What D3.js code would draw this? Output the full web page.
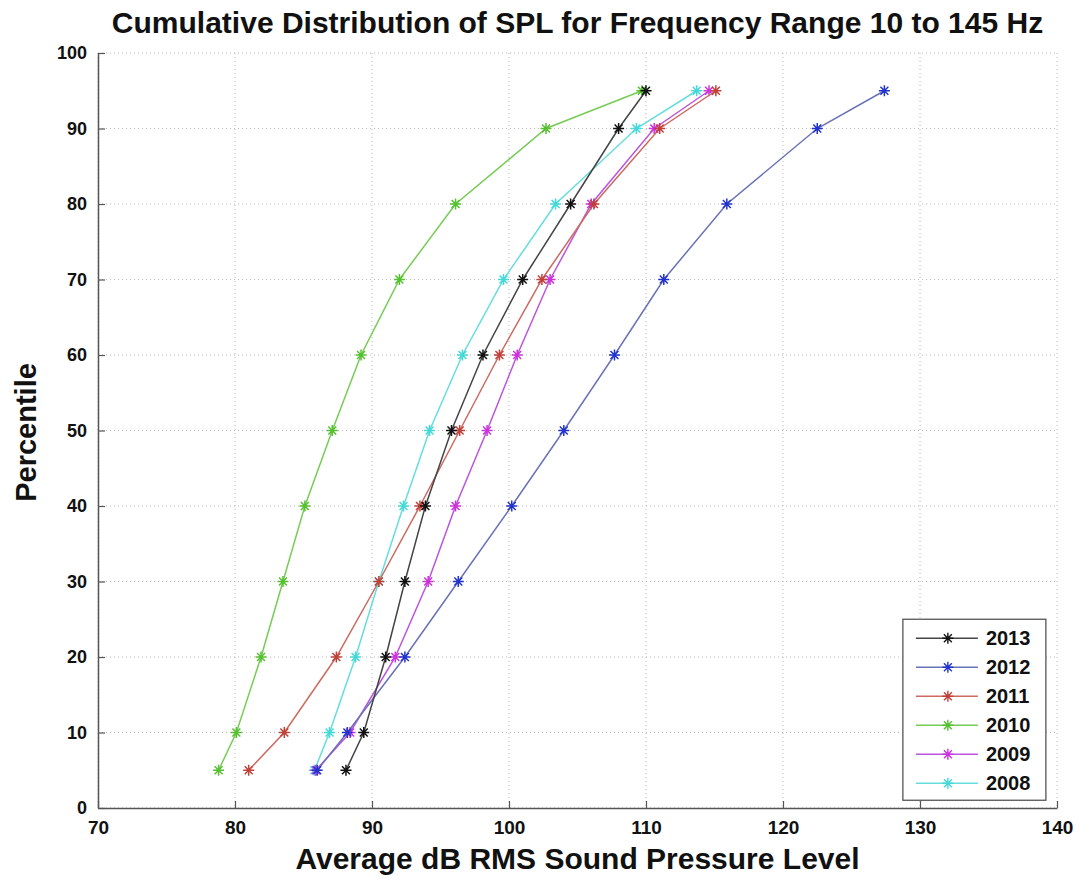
<!DOCTYPE html>
<html>
<head>
<meta charset="utf-8">
<script src="https://cdn.jsdelivr.net/npm/d3@7"></script>
<style>
  body { margin: 0; background: #fff; }
  svg text { font-family: "Liberation Sans", Arial, sans-serif; font-weight: bold; fill: #111; }
</style>
</head>
<body>
<svg id="chart"></svg>
<script>
// percentile levels shared by all years
const percentiles = [5, 10, 20, 30, 40, 50, 60, 70, 80, 90, 95];

// average dB RMS SPL, one array per year
const spl2013 = [88.1, 89.4, 91.0, 92.4, 93.9, 95.8, 98.1, 101.0, 104.5, 108.0, 110.0];
const spl2012 = [86.0, 88.2, 92.4, 96.3, 100.2, 104.0, 107.7, 111.3, 115.9, 122.5, 127.4];
const spl2011 = [81.0, 83.6, 87.4, 90.5, 93.5, 96.4, 99.3, 102.4, 106.2, 111.0, 115.1];
const spl2010 = [78.8, 80.1, 81.9, 83.5, 85.1, 87.1, 89.2, 92.0, 96.1, 102.7, 109.7];
const spl2009 = [85.9, 88.4, 91.7, 94.1, 96.1, 98.4, 100.6, 103.0, 106.0, 110.6, 114.6];
const spl2008 = [85.8, 86.9, 88.8, 90.5, 92.3, 94.2, 96.6, 99.6, 103.4, 109.3, 113.7];

const years = ['2013', '2012', '2011', '2010', '2009', '2008'];
const xTicks = [70, 80, 90, 100, 110, 120, 130, 140];
const yTicks = [0, 10, 20, 30, 40, 50, 60, 70, 80, 90, 100];

const series = [
  {name: years[0], values: spl2013, line: '#444444', mark: '#111111'},
  {name: years[1], values: spl2012, line: '#6a72b8', mark: '#2233cc'},
  {name: years[2], values: spl2011, line: '#cc6a60', mark: '#c0403a'},
  {name: years[3], values: spl2010, line: '#77cc55', mark: '#55c030'},
  {name: years[4], values: spl2009, line: '#bb55dd', mark: '#cc33dd'},
  {name: years[5], values: spl2008, line: '#66dddd', mark: '#44d8d8'}
];

const config = {
  width: 1089,
  height: 883,
  margin: {top: 53, right: 32, bottom: 75, left: 98}
};

const innerW = config.width - config.margin.left - config.margin.right;
const innerH = config.height - config.margin.top - config.margin.bottom;

const svg = d3.select('#chart')
    .attr('width', config.width)
    .attr('height', config.height);

const chart = svg.append('g')
    .attr('transform', `translate(${config.margin.left},${config.margin.top})`);

const xScale = d3.scaleLinear().domain([70, 140]).range([0, innerW]);
const yScale = d3.scaleLinear().domain([0, 100]).range([innerH, 0]);

// dotted grid
chart.append('g').selectAll('line')
    .data(xTicks)
    .join('line')
    .attr('x1', d => xScale(d)).attr('x2', d => xScale(d))
    .attr('y1', 0).attr('y2', innerH)
    .attr('stroke', '#b8b8b8').attr('stroke-width', 1)
    .attr('stroke-dasharray', '1,3');

chart.append('g').selectAll('line')
    .data(yTicks)
    .join('line')
    .attr('y1', d => yScale(d)).attr('y2', d => yScale(d))
    .attr('x1', 0).attr('x2', innerW)
    .attr('stroke', '#b8b8b8').attr('stroke-width', 1)
    .attr('stroke-dasharray', '1,3');

// axes with inward ticks
const xAxis = d3.axisBottom(xScale).tickValues(xTicks).tickSize(-7).tickPadding(13).tickSizeOuter(0);
const yAxis = d3.axisLeft(yScale).tickValues(yTicks).tickSize(-7).tickPadding(11).tickSizeOuter(0);

const xAxisG = chart.append('g')
    .attr('transform', `translate(0,${innerH})`)
    .call(xAxis);
const yAxisG = chart.append('g').call(yAxis);

[xAxisG, yAxisG].forEach(g => {
  g.select('.domain').attr('stroke', '#555').attr('stroke-width', 1.5);
  g.selectAll('.tick line').attr('stroke', '#555').attr('stroke-width', 1.2);
  g.selectAll('.tick text')
      .attr('font-family', '"Liberation Sans", Arial, sans-serif')
      .attr('font-weight', 'bold')
      .attr('font-size', 18)
      .attr('fill', '#111');
});
xAxisG.selectAll('.tick text').attr('font-size', 19);

// asterisk marker (plus + cross), like matlab '*'
function asterisk(r) {
  const d = r * 0.72;
  return `M${-r},0L${r},0M0,${-r}L0,${r}M${-d},${-d}L${d},${d}M${-d},${d}L${d},${-d}`;
}

const line = d3.line()
    .x(d => xScale(d[0]))
    .y(d => yScale(d[1]));

// draw in reverse so 2013 sits on top
series.slice().reverse().forEach(s => {
  const pts = s.values.map((v, i) => [v, percentiles[i]]);
  chart.append('path')
      .datum(pts)
      .attr('fill', 'none')
      .attr('stroke', s.line)
      .attr('stroke-width', 1.5)
      .attr('d', line);
  chart.append('g').selectAll('path')
      .data(pts)
      .join('path')
      .attr('transform', d => `translate(${xScale(d[0])},${yScale(d[1])})`)
      .attr('d', asterisk(5.5))
      .attr('stroke', s.mark)
      .attr('stroke-width', 1.5)
      .attr('fill', 'none');
});

// legend
const legend = chart.append('g')
    .attr('transform', `translate(${xScale(128.75)},${yScale(25)})`);

legend.append('rect')
    .attr('width', 143).attr('height', 181)
    .attr('fill', '#fff')
    .attr('stroke', '#555').attr('stroke-width', 1.3);

series.forEach((s, i) => {
  const row = legend.append('g').attr('transform', `translate(0,${19 + i * 29})`);
  row.append('line')
      .attr('x1', 13).attr('x2', 75)
      .attr('stroke', s.line).attr('stroke-width', 1.4);
  row.append('path')
      .attr('transform', 'translate(45,0)')
      .attr('d', asterisk(5.5))
      .attr('stroke', s.mark).attr('stroke-width', 1.4);
  row.append('text')
      .attr('x', 83).attr('y', 0)
      .attr('dy', '0.36em')
      .attr('font-size', 20)
      .text(s.name);
});

// titles
svg.append('text')
    .attr('x', config.margin.left + innerW / 2)
    .attr('y', 33)
    .attr('text-anchor', 'middle')
    .attr('font-size', 30)
    .text('Cumulative Distribution of SPL for Frequency Range 10 to 145 Hz');

svg.append('text')
    .attr('x', config.margin.left + innerW / 2)
    .attr('y', 869)
    .attr('text-anchor', 'middle')
    .attr('font-size', 30)
    .text('Average dB RMS Sound Pressure Level');

svg.append('text')
    .attr('transform', `translate(36,${config.margin.top + innerH / 2 + 2}) rotate(-90)`)
    .attr('text-anchor', 'middle')
    .attr('font-size', 29)
    .text('Percentile');
</script>
</body>
</html>
